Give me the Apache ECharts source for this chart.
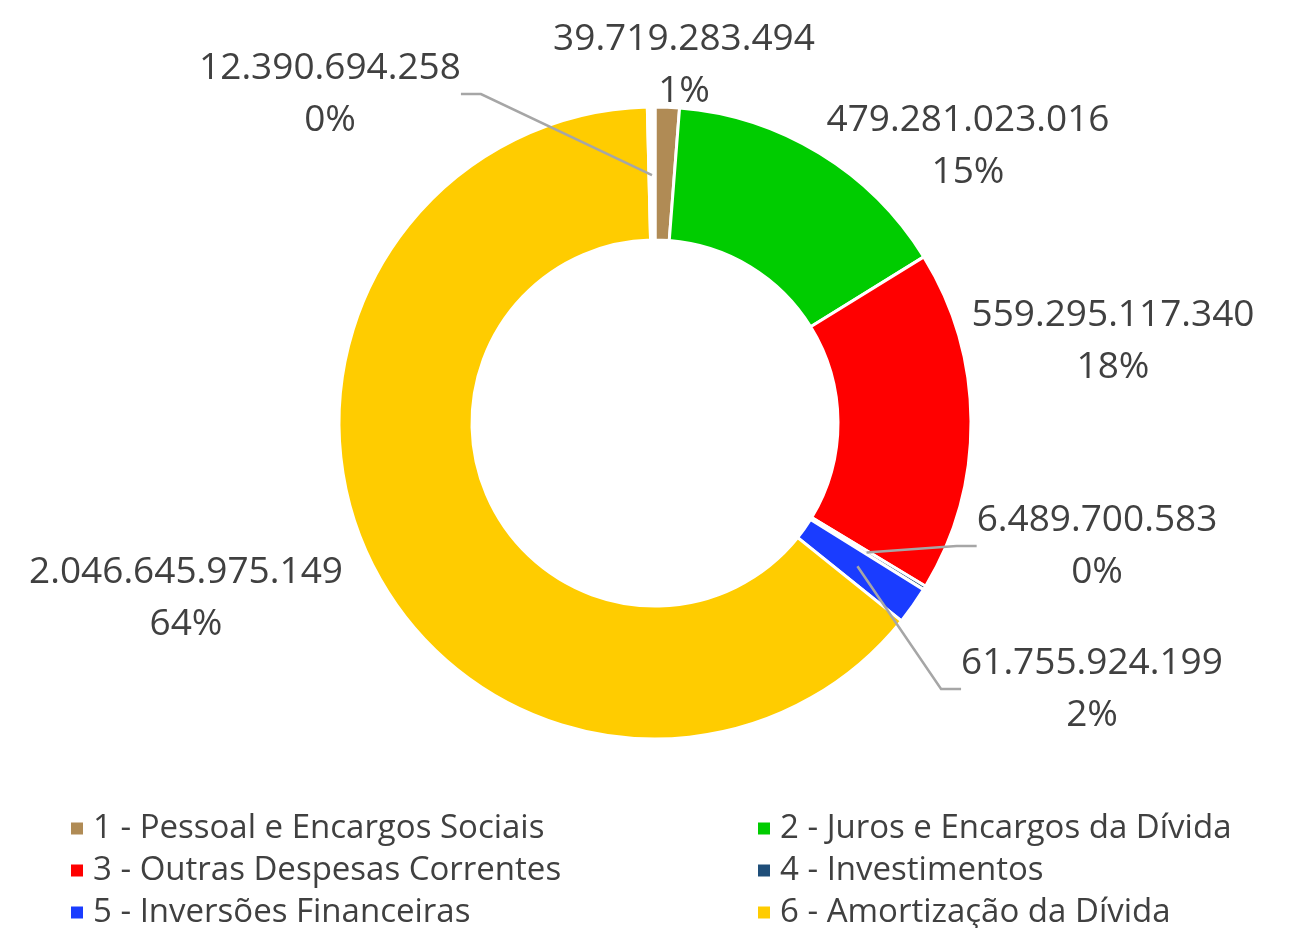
<!DOCTYPE html>
<html>
    <head>
        <meta charset="utf-8" />
        <script src="https://cdn.jsdelivr.net/npm/echarts@6/dist/echarts.min.js"></script>
        <style>
            html, body { margin: 0; padding: 0; background: #fff; }
        </style>
    </head>
    <body>
        <div id="main" style="width: 1292px; height: 928px"></div>
        <script type="text/javascript">
            // data (order = clockwise from 12 o'clock)
            var categories = [
                "1 - Pessoal e Encargos Sociais",
                "2 - Juros e Encargos da Dívida",
                "3 - Outras Despesas Correntes",
                "4 - Investimentos",
                "5 - Inversões Financeiras",
                "6 - Amortização da Dívida",
                "Outros"
            ];
            var values = [39719283494, 479281023016, 559295117340, 6489700583, 61755924199, 2046645975149, 12390694258];
            var valueLabels = ["39.719.283.494", "479.281.023.016", "559.295.117.340", "6.489.700.583", "61.755.924.199", "2.046.645.975.149", "12.390.694.258"];
            var pctLabels = ["1%", "15%", "18%", "0%", "2%", "64%", "0%"];
            var colors = ["#b08b55", "#00cc00", "#ff0000", "#1f4e79", "#1a3cff", "#ffcc00", "#ffffff"];

            // where the labels sit (text block centres) and which have leader lines
            var labelPos = [[684, 65], [968, 146], [1113, 341], [1097, 546], [1092, 689], [186, 598], [330, 94]];
            var withLine = [false, false, false, true, true, false, true];

            var myChart = echarts.init(document.getElementById("main"));

            var ringData = values.map(function (v, i) {
                return { name: categories[i], value: v, itemStyle: { color: colors[i] } };
            });

            // invisible copy of the pie, only to carry the labels; its smaller
            // radius makes the leader lines reach into the ring like in Excel
            var labelData = values.map(function (v, i) {
                return {
                    name: categories[i],
                    value: v,
                    label: { formatter: valueLabels[i] + "\n" + pctLabels[i] },
                    labelLine: { show: withLine[i] }
                };
            });

            var legendText = { color: "#404040", fontSize: 33, fontFamily: "Open Sans", padding: [0, 0, 0, 4] };

            myChart.setOption({
                animation: false,
                backgroundColor: "#ffffff",
                legend: [
                    {
                        data: [categories[0], categories[2], categories[4]],
                        orient: "vertical",
                        left: 64,
                        top: 807,
                        height: 160,
                        itemWidth: 14,
                        itemHeight: 14,
                        itemGap: 9,
                        icon: "rect",
                        textStyle: legendText
                    },
                    {
                        data: [categories[1], categories[3], categories[5]],
                        orient: "vertical",
                        left: 751,
                        top: 807,
                        height: 160,
                        itemWidth: 14,
                        itemHeight: 14,
                        itemGap: 9,
                        icon: "rect",
                        textStyle: legendText
                    }
                ],
                series: [
                    {
                        type: "pie",
                        z: 2,
                        center: [655, 423],
                        radius: [183, 316],
                        startAngle: 90,
                        clockwise: true,
                        silent: true,
                        itemStyle: { borderColor: "#ffffff", borderWidth: 3 },
                        label: { show: false },
                        labelLine: { show: false },
                        data: ringData
                    },
                    {
                        type: "pie",
                        z: 5,
                        center: [655, 423],
                        radius: [0, 248],
                        startAngle: 90,
                        clockwise: true,
                        silent: true,
                        avoidLabelOverlap: false,
                        itemStyle: { color: "rgba(0,0,0,0)", borderWidth: 0 },
                        label: {
                            show: true,
                            position: "outside",
                            color: "#404040",
                            fontSize: 37,
                            fontFamily: "Open Sans",
                            lineHeight: 52,
                            align: "center"
                        },
                        labelLine: {
                            lineStyle: { color: "#a6a6a6", width: 2.5 },
                            length: 20,
                            length2: 20
                        },
                        labelLayout: function (params) {
                            var p = labelPos[params.dataIndex];
                            return { x: p[0], y: p[1], align: "center", verticalAlign: "middle" };
                        },
                        data: labelData
                    }
                ]
            });
        </script>
    </body>
</html>
